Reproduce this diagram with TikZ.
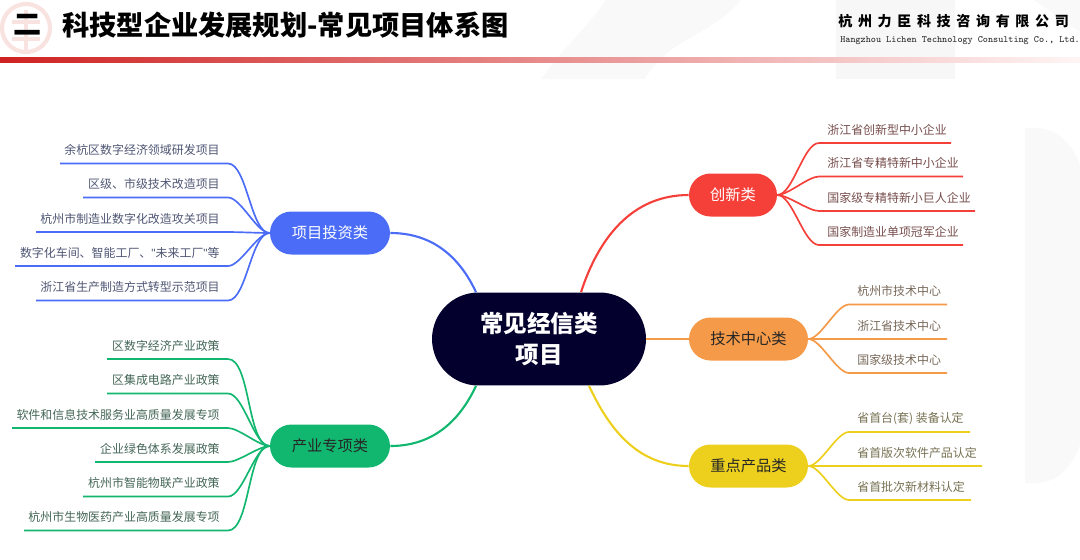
\documentclass[tikz,border=0pt]{standalone}
\usepackage{fontspec}
\setmainfont{Noto Sans CJK SC}
\newfontfamily\spacedcjk[LetterSpace=40]{Noto Sans CJK SC}
\newfontfamily\narrowquote{Liberation Sans}
\usetikzlibrary{arrows.meta, positioning, calc, shapes.misc}
\definecolor{rootdark}{HTML}{03002E}
\definecolor{invblue}{HTML}{4A6CF7}
\definecolor{indgreen}{HTML}{12B76F}
\definecolor{innred}{HTML}{F5403A}
\definecolor{techorange}{HTML}{F49A48}
\definecolor{prodyellow}{HTML}{EDD01E}
\definecolor{bandred}{HTML}{CF2222}
\definecolor{faintgray}{HTML}{F9F9F9}
\definecolor{logopink}{HTML}{F9E3E1}

\begin{document}
\begin{tikzpicture}[x=0.02cm,y=0.02cm]

         %%%%%%%%%%%%%%%%%%%%%%%%%%%%%%%%%%%%%%%%%%%%%%%%%%%%%%%%%%%%%%%%%%%%%%
         % Parameter
         %%%%%%%%%%%%%%%%%%%%%%%%%%%%%%%%%%%%%%%%%%%%%%%%%%%%%%%%%%%%%%%%%%%%%%
         \def\leftx{220}
         \def\innx{827}
         \def\subx{857}
         \def\under{13.5}
         \def\bendgap{8}

         \tikzset{
            rootnode/.style={
            rounded rectangle,
            fill=rootdark,
            text=white,
            font=\fontsize{13.4pt}{17.6pt}\selectfont\bfseries,
            align=center,
            minimum width=4.28cm,
            minimum height=1.86cm,
            inner sep=0pt
            },
            hubnode/.style={
            rounded rectangle,
            font=\fontsize{8.7pt}{10pt}\selectfont,
            minimum height=0.86cm,
            inner sep=0pt
            },
            leaftext/.style={
            font=\fontsize{6.8pt}{8pt}\selectfont,
            inner sep=0pt
            },
            branch/.style={line width=1.2pt},
            leafline/.style={line width=0.95pt, line join=round},
            sbend/.style={looseness=0.6}
         }

         \useasboundingbox (0,-559) rectangle (1080,0);

         %%%%%%%%%%%%%%%%%%%%%%%%%%%%%%%%%%%%%%%%%%%%%%%%%%%%%%%%%%%%%%%%%%%%%%
         % Hintergrund
         %%%%%%%%%%%%%%%%%%%%%%%%%%%%%%%%%%%%%%%%%%%%%%%%%%%%%%%%%%%%%%%%%%%%%%
         \fill[faintgray] (541,-79) to[out=55,in=-125] (606,0) -- (741,0)
         to[out=-130,in=60] (645,-79) -- cycle;
         \fill[faintgray] (1034,0) -- (1080,-32) -- (1080,0) -- cycle;
         \fill[black!3] (836,0) rectangle (955,-79);
         \fill[faintgray] (1025,-128) -- (1035,-128)
         to[out=0,in=110] (1080,-165) -- (1080,-445)
         to[out=-110,in=0] (1035,-483) -- (1025,-483) -- cycle;

         % Logo
         \draw[logopink,line width=2.4pt] (26,-28) circle (24);
         \draw[logopink,line width=2pt] (12,-22) -- (40,-22);
         \draw[logopink,line width=2pt] (12,-39) -- (40,-39);
         \draw[logopink,line width=2pt] (26,-10) -- (26,-51);

         % Band unter dem Titel
         \fill[left color=bandred,right color=red!4] (0,-57.5) rectangle (1080,-62.5);

         %%%%%%%%%%%%%%%%%%%%%%%%%%%%%%%%%%%%%%%%%%%%%%%%%%%%%%%%%%%%%%%%%%%%%%
         % Titel
         %%%%%%%%%%%%%%%%%%%%%%%%%%%%%%%%%%%%%%%%%%%%%%%%%%%%%%%%%%%%%%%%%%%%%%
         \node[anchor=center,inner sep=0pt,font=\fontsize{16pt}{18pt}\selectfont\bfseries] (Number) at (28,-25) {二};
         \node[anchor=west,inner sep=0pt,font=\fontsize{15.5pt}{18pt}\selectfont\bfseries] (Title) at (62,-25) {科技型企业发展规划-常见项目体系图};
         \node[anchor=west,inner sep=0pt,font=\fontsize{8pt}{10pt}\spacedcjk\bfseries] (Company) at (838,-21) {杭州力臣科技咨询有限公司};
         \node[anchor=west,inner sep=0pt,text=black!85,font=\fontsize{5.46pt}{6pt}\ttfamily] (CompanyEn) at (840,-41) {Hangzhou Lichen Technology Consulting Co., Ltd.};

         %%%%%%%%%%%%%%%%%%%%%%%%%%%%%%%%%%%%%%%%%%%%%%%%%%%%%%%%%%%%%%%%%%%%%%
         % Mitte und Hauptzweige
         %%%%%%%%%%%%%%%%%%%%%%%%%%%%%%%%%%%%%%%%%%%%%%%%%%%%%%%%%%%%%%%%%%%%%%
         \node[rootnode] (Root) at (539,-339) {常见经信类\\项目};

         \node[hubnode,fill=invblue,text=white,minimum width=2.4cm] (Invest) at (330,-233) {项目投资类};
         \node[hubnode,fill=indgreen,text=black!85,minimum width=2.4cm] (Industry) at (330,-446) {产业专项类};
         \node[hubnode,fill=innred,text=white,minimum width=1.76cm] (Innovate) at (733,-195) {创新类};
         \node[hubnode,fill=techorange,text=black!85,minimum width=2.38cm] (TechCenter) at (748.5,-339) {技术中心类};
         \node[hubnode,fill=prodyellow,text=black!85,minimum width=2.38cm] (Product) at (748.5,-466) {重点产品类};

         \draw[branch,invblue] ($(Root.north)+(-63,0)$) to[out=115,in=0] (Invest.east);
         \draw[branch,indgreen] ($(Root.south)+(-63,0)$) to[out=-115,in=0] (Industry.east);
         \draw[branch,innred] ($(Root.north)+(42,0)$) to[out=72,in=180] (Innovate.west);
         \draw[branch,techorange] (Root.east) -- (TechCenter.west);
         \draw[branch,prodyellow] ($(Root.south)+(50,0)$) to[out=-65,in=180] (Product.west);

         %%%%%%%%%%%%%%%%%%%%%%%%%%%%%%%%%%%%%%%%%%%%%%%%%%%%%%%%%%%%%%%%%%%%%%
         % Links: Projekte
         %%%%%%%%%%%%%%%%%%%%%%%%%%%%%%%%%%%%%%%%%%%%%%%%%%%%%%%%%%%%%%%%%%%%%%
         \foreach \nm/\txt/\yy/\xend in {
            InvA/{余杭区数字经济领域研发项目}/150/60,
            InvB/{区级、市级技术改造项目}/184/83,
            InvC/{杭州市制造业数字化改造攻关项目}/218.5/36,
            InvD/{数字化车间、智能工厂、{\narrowquote "}未来工厂{\narrowquote "}等}/252.5/15,
            InvE/{浙江省生产制造方式转型示范项目}/287/36}{
            \node[leaftext,anchor=east,text=invblue!28!black!75] (\nm) at (\leftx,-\yy) {\txt};
            \coordinate (\nm Bend) at ($(\nm.east)+(\bendgap,-\under)$);
            \coordinate (\nm End) at (\xend,-\yy-\under);
            \draw[leafline,invblue] (Invest.west) to[sbend,out=180,in=0] (\nm Bend) -- (\nm End);
         }

         %%%%%%%%%%%%%%%%%%%%%%%%%%%%%%%%%%%%%%%%%%%%%%%%%%%%%%%%%%%%%%%%%%%%%%
         % Links: Industrie
         %%%%%%%%%%%%%%%%%%%%%%%%%%%%%%%%%%%%%%%%%%%%%%%%%%%%%%%%%%%%%%%%%%%%%%
         \foreach \nm/\txt/\yy/\xend in {
            IndA/{区数字经济产业政策}/345.5/107,
            IndB/{区集成电路产业政策}/380/107,
            IndC/{软件和信息技术服务业高质量发展专项}/414.5/12,
            IndD/{企业绿色体系发展政策}/448.5/95,
            IndE/{杭州市智能物联产业政策}/483/83,
            IndF/{杭州市生物医药产业高质量发展专项}/517/24}{
            \node[leaftext,anchor=east,text=indgreen!28!black!75] (\nm) at (\leftx,-\yy) {\txt};
            \coordinate (\nm Bend) at ($(\nm.east)+(\bendgap,-\under)$);
            \coordinate (\nm End) at (\xend,-\yy-\under);
            \draw[leafline,indgreen] (Industry.west) to[sbend,out=180,in=0] (\nm Bend) -- (\nm End);
         }

         %%%%%%%%%%%%%%%%%%%%%%%%%%%%%%%%%%%%%%%%%%%%%%%%%%%%%%%%%%%%%%%%%%%%%%
         % Rechts: Innovation
         %%%%%%%%%%%%%%%%%%%%%%%%%%%%%%%%%%%%%%%%%%%%%%%%%%%%%%%%%%%%%%%%%%%%%%
         \foreach \nm/\txt/\yy/\xend in {
            InnA/{浙江省创新型中小企业}/129.5/951,
            InnB/{浙江省专精特新中小企业}/163/963,
            InnC/{国家级专精特新小巨人企业}/197.5/975,
            InnD/{国家制造业单项冠军企业}/231.5/963}{
            \node[leaftext,anchor=west,text=innred!30!black!75] (\nm) at (\innx,-\yy) {\txt};
            \coordinate (\nm Bend) at ($(\nm.west)+(-\bendgap,-\under)$);
            \coordinate (\nm End) at (\xend,-\yy-\under);
            \draw[leafline,innred] (Innovate.east) to[sbend,out=0,in=180] (\nm Bend) -- (\nm End);
         }

         %%%%%%%%%%%%%%%%%%%%%%%%%%%%%%%%%%%%%%%%%%%%%%%%%%%%%%%%%%%%%%%%%%%%%%
         % Rechts: Technikzentren
         %%%%%%%%%%%%%%%%%%%%%%%%%%%%%%%%%%%%%%%%%%%%%%%%%%%%%%%%%%%%%%%%%%%%%%
         \foreach \nm/\txt/\yy/\xend in {
            TecA/{杭州市技术中心}/291/947,
            TecB/{浙江省技术中心}/325.5/947,
            TecC/{国家级技术中心}/359.5/947}{
            \node[leaftext,anchor=west,text=techorange!25!black!70] (\nm) at (\subx,-\yy) {\txt};
            \coordinate (\nm Bend) at ($(\nm.west)+(-\bendgap,-\under)$);
            \coordinate (\nm End) at (\xend,-\yy-\under);
            \draw[leafline,techorange] (TechCenter.east) to[sbend,out=0,in=180] (\nm Bend) -- (\nm End);
         }

         %%%%%%%%%%%%%%%%%%%%%%%%%%%%%%%%%%%%%%%%%%%%%%%%%%%%%%%%%%%%%%%%%%%%%%
         % Rechts: Produkte
         %%%%%%%%%%%%%%%%%%%%%%%%%%%%%%%%%%%%%%%%%%%%%%%%%%%%%%%%%%%%%%%%%%%%%%
         \foreach \nm/\txt/\yy/\xend in {
            ProA/{省首台(套) 装备认定}/418.5/970,
            ProB/{省首版次软件产品认定}/452.5/982,
            ProC/{省首批次新材料认定}/486.5/971}{
            \node[leaftext,anchor=west,text=prodyellow!25!black!70] (\nm) at (\subx,-\yy) {\txt};
            \coordinate (\nm Bend) at ($(\nm.west)+(-\bendgap,-\under)$);
            \coordinate (\nm End) at (\xend,-\yy-\under);
            \draw[leafline,prodyellow] (Product.east) to[sbend,out=0,in=180] (\nm Bend) -- (\nm End);
         }

\end{tikzpicture}
\end{document}
